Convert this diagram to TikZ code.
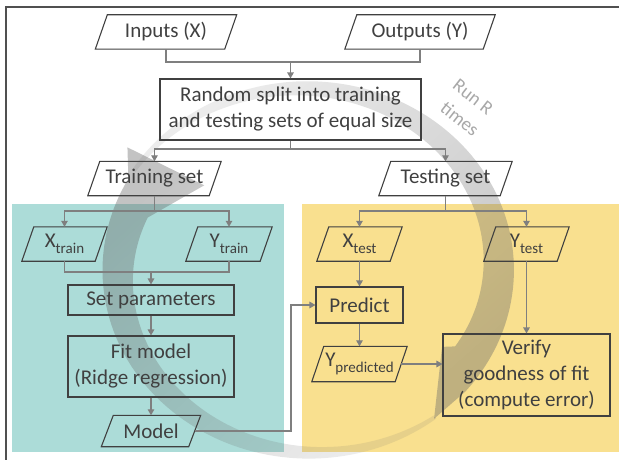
\documentclass[tikz,border=0pt]{standalone}
\usepackage{fontspec}
\setmainfont{Carlito}
\usetikzlibrary{arrows.meta,calc,fadings}
\definecolor{tealbg}{RGB}{172,220,216}
\definecolor{yelbg}{RGB}{249,224,143}
\definecolor{txtc}{RGB}{64,64,64}
\definecolor{connc}{RGB}{127,127,127}
\definecolor{bandc}{RGB}{105,105,105}
\definecolor{runc}{RGB}{168,168,168}
\definecolor{framec}{RGB}{80,80,80}
\tikzfading[name=lightdark, left color=transparent!87, right color=transparent!60]
\newcommand{\sbs}[1]{\raisebox{-5.5pt}{\fontsize{15}{15}\selectfont #1}}
\newcommand{\pgram}[6]{%
  \node[pbox, minimum width=#4pt, minimum height=#5pt] (#1) at (#2,#3) {#6};
  \draw[pline] ($(#1.south west)+(-6,0)$) -- ($(#1.south east)+(-6,0)$) -- ($(#1.north east)+(6,0)$) -- ($(#1.north west)+(6,0)$) -- cycle;}
\begin{document}
\begin{tikzpicture}[x=1pt,y=-1pt,
  boxtxt/.style={text=txtc, font=\fontsize{21}{26}\selectfont, inner sep=0pt, align=center},
  rbox/.style={boxtxt, draw=txtc, line width=1.1pt},
  pbox/.style={boxtxt},
  pline/.style={draw=txtc, line width=1.1pt, line join=miter},
  cline/.style={draw=connc, line width=1.3pt},
  conn/.style={cline, -{Triangle[length=6pt,width=6.5pt]}},
  runtxt/.style={text=runc, rotate=-38, font=\fontsize{19}{21}\selectfont, inner sep=0pt}]
\useasboundingbox (0,0) rectangle (619,460);
% background regions
\fill[tealbg] (12,204) rectangle (284,452);
\fill[yelbg] (302,204) rectangle (619,452);
% circular arrows
\fill[bandc, path fading=lightdark, fading angle=135]
  plot[domain=52:209, samples=80, variable=\t] ({308+207*cos(\t)},{270+189*sin(\t)})
  -- (126,147) -- (203,185)
  -- plot[domain=200:52, samples=80, variable=\t] ({308+(203-31*(\t-52)/148)*cos(\t)},{270+(185-31*(\t-52)/148)*sin(\t)})
  -- cycle;
\fill[bandc, path fading=lightdark, fading angle=-45]
  plot[domain=212:400, samples=100, variable=\t] ({308+207*cos(\t)},{270+189*sin(\t)})
  -- (435,419) -- (443,347)
  -- plot[domain=390:212, samples=100, variable=\t] ({308+(203-32*(\t-212)/178)*cos(\t)},{270+(185-32*(\t-212)/178)*sin(\t)})
  -- cycle;
% frame
\draw[framec, line width=1.6pt] (6,460) -- (6,7) -- (619,7);
% nodes
\pgram{inp}{166}{32}{129}{34}{Inputs (X)}
\pgram{out}{420}{32}{138}{34}{Outputs (Y)}
\node[rbox, minimum width=261pt, minimum height=61pt] (split) at (290.5,109.5) {Random split into training\\and testing sets of equal size};
\pgram{train}{154.5}{178.5}{121}{34}{Training set}
\pgram{test}{445.5}{178.5}{121}{34}{Testing set}
\pgram{xtrain}{64.5}{244}{73}{34}{X\sbs{train}}
\pgram{ytrain}{229}{244}{74}{34}{Y\sbs{train}}
\node[rbox, minimum width=166pt, minimum height=30pt] (setp) at (151,300) {Set parameters};
\node[rbox, minimum width=166pt, minimum height=61pt] (fit) at (151,366.5) {Fit model\\(Ridge regression)};
\pgram{model}{151}{431}{87}{31}{Model}
\pgram{xtest}{359.5}{244}{73}{34}{X\sbs{test}}
\pgram{ytest}{526.5}{244}{73}{34}{Y\sbs{test}}
\node[rbox, minimum width=87pt, minimum height=36pt] (pred) at (359.5,305) {Predict};
\pgram{ypred}{359.5}{364}{83}{35}{Y\sbs{predicted}}
\node[rbox, minimum width=167pt, minimum height=82pt] (verify) at (526.5,375) {Verify\\goodness of fit\\(compute error)};
\node[runtxt] (runr) at (473,97) {Run R};
\node[runtxt] (runt) at (460,119) {times};
% junctions
\coordinate (j1) at (290.5,62);
\coordinate (j2) at (290.5,149);
\coordinate (j3) at (154.5,211);
\coordinate (j4) at (151,272);
\coordinate (j5) at (291,431);
\coordinate (j6) at (445.5,211);
% connectors
\draw[cline] (inp.south) |- (j1) -| (out.south);
\draw[conn] (j1) -- (split.north);
\draw[cline] (split.south) -- (j2);
\draw[conn] (j2) -| (train.north);
\draw[conn] (j2) -| (test.north);
\draw[cline] (train.south) -- (j3);
\draw[conn] (j3) -| (xtrain.north);
\draw[conn] (j3) -| (ytrain.north);
\draw[cline] (xtrain.south) |- (j4) -| (ytrain.south);
\draw[conn] (j4) -- (setp.north);
\draw[conn] (setp.south) -- (fit.north);
\draw[conn] (fit.south) -- (model.north);
\draw[conn] (model.east) -- (j5) |- (pred.west);
\draw[cline] (test.south) -- (j6);
\draw[conn] (j6) -| (xtest.north);
\draw[conn] (j6) -| (ytest.north);
\draw[conn] (xtest.south) -- (pred.north);
\draw[conn] (pred.south) -- (ypred.north);
\draw[conn] (ypred.east) -- (ypred.east -| verify.west);
\draw[conn] (ytest.south) -- (verify.north);
\end{tikzpicture}
\end{document}
